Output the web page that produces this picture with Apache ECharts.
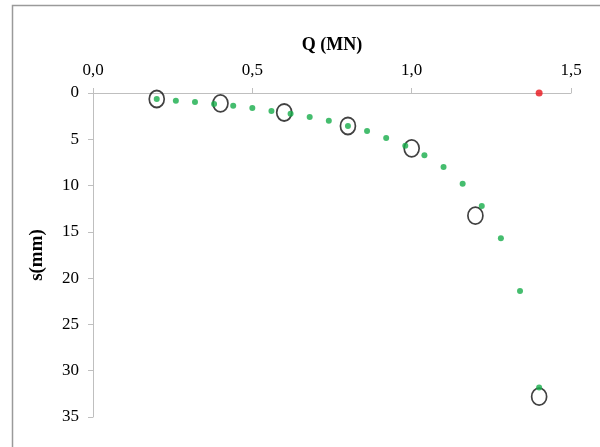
<!DOCTYPE html>
<html><head><meta charset="utf-8">
<script src="https://cdn.jsdelivr.net/npm/echarts@6/dist/echarts.min.js"></script>
<style>html,body{margin:0;padding:0;background:#fff}#c{width:600px;height:447px}</style>
</head><body><div id="c"></div>
<script>
var greenQ = [0.20,0.26,0.32,0.38,0.44,0.50,0.56,0.62,0.68,0.74,0.80,0.86,0.92,0.98,1.04,1.10,1.16,1.22,1.28,1.34,1.40];
var greenS = [0.65,0.83,0.97,1.19,1.37,1.62,1.94,2.23,2.59,3.0,3.56,4.1,4.86,5.69,6.73,8.0,9.8,12.2,15.7,21.4,31.8];
var circleQ = [0.2,0.4,0.6,0.8,1.0,1.2,1.4];
var circleS = [0.65,1.12,2.1,3.56,5.98,13.25,32.8];
var redQ = [1.4];
var redS = [0];
var xTicks = [0, 0.5, 1.0, 1.5];
var yTicks = [0,5,10,15,20,25,30,35];

function pairs(a,b){return a.map(function(v,i){return [v,b[i]];});}
var font = 'Liberation Serif';
var chart = echarts.init(document.getElementById('c'));
chart.setOption({
  animation:false,
  backgroundColor:'#fff',
  graphic:[
    {type:'polyline',shape:{points:[[12.5,447],[12.5,5.5],[600,5.5]]},style:{stroke:'#9a9a9a',lineWidth:1.5,fill:null},silent:true}
  ],
  grid:{left:93,right:29,top:93,bottom:30},
  xAxis:{
    type:'value',position:'top',min:0,max:1.5,interval:0.5,
    name:'Q (MN)',nameLocation:'middle',nameGap:39,
    nameTextStyle:{fontFamily:font,fontWeight:'bold',fontSize:18,color:'#000'},
    axisLine:{show:true,lineStyle:{color:'#bfbfbf',width:1}},
    axisTick:{show:true,inside:false,length:5,lineStyle:{color:'#bfbfbf'}},
    splitLine:{show:false},
    axisLabel:{margin:14,fontFamily:font,fontSize:17,color:'#000',
      formatter:function(v){return v.toFixed(1).replace('.',',');}}
  },
  yAxis:{
    type:'value',inverse:true,min:0,max:35,interval:5,
    name:'s(mm)',nameLocation:'middle',nameGap:46,nameRotate:90,
    nameTextStyle:{fontFamily:font,fontWeight:'bold',fontSize:19,color:'#000'},
    axisLine:{show:true,lineStyle:{color:'#bfbfbf',width:1}},
    axisTick:{show:true,inside:false,length:5,lineStyle:{color:'#bfbfbf'}},
    splitLine:{show:false},
    axisLabel:{margin:14,fontFamily:font,fontSize:17,color:'#000'}
  },
  series:[
    {type:'scatter',data:pairs(circleQ,circleS),symbol:'circle',symbolSize:[15,17],
     itemStyle:{color:'rgba(255,255,255,0)',borderColor:'#111',borderWidth:1.8},z:2},
    {type:'scatter',data:pairs(greenQ,greenS),symbol:'circle',symbolSize:6,
     itemStyle:{color:'#17ad4a'},z:3},
    {type:'scatter',data:pairs(redQ,redS),symbol:'circle',symbolSize:7,
     itemStyle:{color:'#e8141b'},z:4}
  ]
});
</script></body></html>
